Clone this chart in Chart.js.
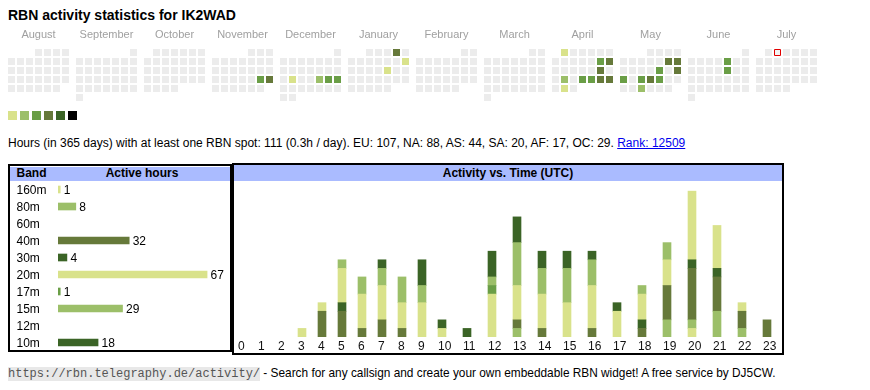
<!DOCTYPE html>
<html><head><meta charset="utf-8">
<script src="https://cdn.jsdelivr.net/npm/chart.js@4.4.1/dist/chart.umd.min.js"></script>
<style>
html,body{margin:0;padding:0;background:#fff}
body{position:relative;width:870px;height:390px;overflow:hidden;font-family:"Liberation Sans",Arial,sans-serif;color:#000}
.abs{position:absolute;white-space:nowrap}
canvas{position:absolute}
#title{left:8px;top:8px;font-size:14px;line-height:14px;font-weight:bold}
#summary{left:8px;top:136.8px;font-size:12px;line-height:12px}
#summary a{color:#0000ee;text-decoration:underline}
.box{position:absolute;box-sizing:border-box;border:2px solid #000}
.hdr{position:absolute;background:#aabbff}
.hdrtxt{position:absolute;font-size:12px;line-height:12px;font-weight:bold;white-space:nowrap}
#foot{left:8px;top:367px;font-size:11.85px;line-height:12px}
#foot .mono{font-family:"Liberation Mono",monospace;font-size:12px;color:#555;background:#e8e8e8}
.sw{position:absolute;width:9px;height:9px;top:111px}
</style></head>
<body>
<div id="title" class="abs">RBN activity statistics for IK2WAD</div>
<canvas id="cal" width="870" height="105" style="left:0;top:0"></canvas>
<div id="legend"></div>
<div id="summary" class="abs">Hours (in 365 days) with at least one RBN spot: 111 (0.3h / day). EU: 107, NA: 88, AS: 44, SA: 20, AF: 17, OC: 29. <a href="#">Rank: 12509</a></div>

<div class="box" style="left:8px;top:164px;width:224px;height:188px"></div>
<div class="hdr" style="left:10px;top:167px;width:220px;height:14px"></div>
<div class="hdrtxt" style="left:16.5px;top:167.2px">Band</div>
<div class="hdrtxt" style="left:142px;top:167.2px;transform:translateX(-50%)">Active hours</div>
<canvas id="bands" width="220" height="170" style="left:10px;top:181px"></canvas>

<div class="box" style="left:232px;top:163px;width:552px;height:192px"></div>
<div class="hdr" style="left:234px;top:165px;width:548px;height:16px"></div>
<div class="hdrtxt" style="left:508px;top:167.2px;transform:translateX(-50%)">Activity vs. Time (UTC)</div>
<canvas id="time" width="548" height="172" style="left:234px;top:181px"></canvas>

<div id="foot" class="abs"><span class="mono">https://rbn.telegraphy.de/activity/</span> - Search for any callsign and create your own embeddable RBN widget! A free service by DJ5CW.</div>

<script>
// ---------------- data ----------------
const months = ['August','September','October','November','December','January','February','March','April','May','June','July'];
const firstYear = 2024, firstMonth = 7; // August 2024
const activeDays = ['2024-11-23','2024-11-24','2024-12-17','2024-12-20','2024-12-21','2024-12-22',
  '2025-01-04','2025-01-12','2025-01-17','2025-04-01','2025-04-12','2025-04-13','2025-04-19',
  '2025-04-22','2025-04-24','2025-04-25','2025-04-26','2025-04-27','2025-04-29','2025-05-10',
  '2025-05-11','2025-05-16','2025-05-18','2025-05-19','2025-05-21','2025-05-22','2025-05-23',
  '2025-05-28','2025-06-06','2025-06-13'];
const activeLevels = [3,4,1,2,3,3,4,1,1,1,3,4,4,2,3,3,4,4,1,4,4,3,4,3,3,4,3,2,3,3];
const today = '2025-07-02';
const levelColors = ['#ececec','#d9e28b','#9cbf69','#6a9e46','#66793a','#3b6426','#000000'];

const bands = ['160m','80m','60m','40m','30m','20m','17m','15m','12m','10m'];
const bandHours = [1,8,0,32,4,67,1,29,0,18];
const bandColors = ['#d9e28b','#9cbf69','#6a9e46','#66793a','#3b6426','#d9e28b','#6a9e46','#9cbf69','#66793a','#3b6426'];

const hours = ['0','1','2','3','4','5','6','7','8','9','10','11','12','13','14','15','16','17','18','19','20','21','22','23'];
const h160 = [0,0,0,0,0,0,0,0,0,0,0,0,0,0,0,0,0,0,0,0,1,0,0,0];
const h80  = [0,0,0,0,0,0,0,0,0,0,0,0,0,1,0,0,0,0,0,2,1,3,1,0];
const h60  = [0,0,0,0,0,0,0,0,0,0,0,0,0,0,0,0,0,0,0,0,0,0,0,0];
const h40  = [0,0,0,0,3,3,1,2,1,0,0,0,0,1,1,0,1,0,1,4,6,4,2,2];
const h30  = [0,0,0,0,0,1,0,0,0,0,0,0,0,0,0,0,0,0,1,0,1,1,0,0];
const h20  = [0,0,0,1,1,4,4,4,3,4,1,0,5,4,4,4,5,3,3,3,8,5,1,0];
const h17  = [0,0,0,0,0,0,0,0,0,0,0,0,1,0,0,0,0,0,0,0,0,0,0,0];
const h15  = [0,0,0,0,0,1,2,2,3,2,0,0,1,5,3,4,3,0,1,2,0,0,0,0];
const h12  = [0,0,0,0,0,0,0,0,0,0,0,0,0,0,0,0,0,0,0,0,0,0,0,0];
const h10  = [0,0,0,0,0,0,0,1,0,3,1,1,3,3,2,2,1,1,0,0,0,0,0,0];
const hourly = [h160,h80,h60,h40,h30,h20,h17,h15,h12,h10];

// ---------------- legend swatches ----------------
const leg = document.getElementById('legend');
levelColors.slice(1).forEach((c,i)=>{
  const d=document.createElement('div'); d.className='sw';
  d.style.left=(8+12*i)+'px'; d.style.background=c; leg.appendChild(d);
});

const common = {responsive:false, maintainAspectRatio:false, animation:false, events:[], devicePixelRatio:1,
  plugins:{legend:{display:false}, tooltip:{enabled:false}, title:{display:false}}};

// ---------------- calendar heatmap ----------------
const PITCH = 9, CELL = 7, MONTH_PITCH = 68/9;
const levelOf = {}; activeDays.forEach((d,i)=>levelOf[d]=activeLevels[i]);
const cells=[], cellColors=[], todayCell=[];
for(let mi=0; mi<months.length; mi++){
  const y = firstYear + Math.floor((firstMonth+mi)/12), m=(firstMonth+mi)%12;
  const off = (new Date(Date.UTC(y,m,1)).getUTCDay()+6)%7;
  const nd = new Date(Date.UTC(y,m+1,0)).getUTCDate();
  for(let d=1; d<=nd; d++){
    const idx=off+d-1;
    const key = y+'-'+String(m+1).padStart(2,'0')+'-'+String(d).padStart(2,'0');
    const pt = {x: mi*MONTH_PITCH + idx%7, y: Math.floor(idx/7)};
    if(key===today){ todayCell.push(pt); continue; }
    cells.push(pt); cellColors.push(levelColors[levelOf[key]||0]);
  }
}
const monthLabels = {id:'monthLabels', afterDraw(ch){
  const c=ch.ctx, xs=ch.scales.x, ys=ch.scales.y;
  c.save(); c.font='11px "Liberation Sans", Arial, sans-serif'; c.fillStyle='#a0a0a0';
  c.textAlign='center'; c.textBaseline='alphabetic';
  months.forEach((mn,mi)=>c.fillText(mn, xs.getPixelForValue(mi*MONTH_PITCH+3), ys.getPixelForValue(-1.667)+0.5));
  c.restore();
}};
const xMin=-11.5/PITCH, yMin=-52.5/PITCH;
new Chart(document.getElementById('cal'), {
  type:'scatter',
  data:{datasets:[
    {data:cells, pointStyle:'rect', pointRadius:CELL/Math.SQRT2, pointHoverRadius:CELL/Math.SQRT2,
     pointBackgroundColor:cellColors, pointBorderWidth:0, showLine:false, clip:false},
    {data:todayCell, pointStyle:'rect', pointRadius:(CELL-1)/Math.SQRT2, pointHoverRadius:(CELL-1)/Math.SQRT2,
     pointBackgroundColor:'#f4f4f4', pointBorderColor:'#e00000', pointBorderWidth:1, showLine:false, clip:false}
  ]},
  options:{...common, layout:{padding:0, autoPadding:false},
    scales:{x:{type:'linear', display:false, offset:false, min:xMin, max:xMin+870/PITCH},
            y:{type:'linear', display:false, offset:false, reverse:true, min:yMin, max:yMin+105/PITCH}}},
  plugins:[monthLabels]
});

// ---------------- band hours ----------------
const BAND_UNIT = 2.225;
const bandLabels = {id:'bandLabels', afterDraw(ch){
  const c=ch.ctx, ys=ch.scales.y, xs=ch.scales.x;
  c.save(); c.font='12px "Liberation Sans", Arial, sans-serif'; c.fillStyle='#000'; c.textBaseline='alphabetic';
  bands.forEach((b,i)=>{
    const y=ys.getPixelForValue(i)+4.3;
    c.textAlign='left'; c.fillText(b, 6.5, y);
    if(bandHours[i]>0) c.fillText(String(bandHours[i]), xs.getPixelForValue(bandHours[i])+3.5, y);
  });
  c.restore();
}};
new Chart(document.getElementById('bands'), {
  type:'bar',
  data:{labels:bands, datasets:[{data:bandHours.map(v=>v>0?v:null), backgroundColor:bandColors, barThickness:7, borderWidth:0}]},
  options:{...common, indexAxis:'y', layout:{padding:{left:48,right:0,top:0,bottom:0}, autoPadding:false},
    scales:{x:{display:false, offset:false, min:0, max:172/BAND_UNIT}, y:{display:false}}},
  plugins:[bandLabels]
});

// ---------------- activity vs time ----------------
const UNIT_PX = 8.58, BAR_W = 8;
const colLeft=[]; { let acc=4; hours.forEach(h=>{ colLeft.push(acc); acc += 15 + 5*h.length; }); }
const hourLabels = {id:'hourLabels', afterDraw(ch){
  const c=ch.ctx, xs=ch.scales.x;
  c.save(); c.font='12px "Liberation Sans", Arial, sans-serif'; c.fillStyle='#111';
  c.textAlign='left'; c.textBaseline='alphabetic';
  hours.forEach((h,i)=>c.fillText(h, xs.getPixelForValue(colLeft[i]), ch.chartArea.bottom+12.5));
  c.restore();
}};
new Chart(document.getElementById('time'), {
  type:'bar',
  data:{datasets: bands.map((b,bi)=>({
    label:b,
    data: hourly[bi].map((v,hi)=>({x: colLeft[hi]+BAR_W/2, y: v>0?v:null})),
    backgroundColor: bandColors[bi], barThickness:BAR_W, borderWidth:0
  }))},
  options:{...common, layout:{padding:{left:0,right:0,top:0,bottom:16}, autoPadding:false},
    scales:{x:{type:'linear', display:false, offset:false, stacked:true, min:0, max:548},
            y:{display:false, stacked:true, min:0, max:156/UNIT_PX}}},
  plugins:[hourLabels]
});
</script>
</body></html>
